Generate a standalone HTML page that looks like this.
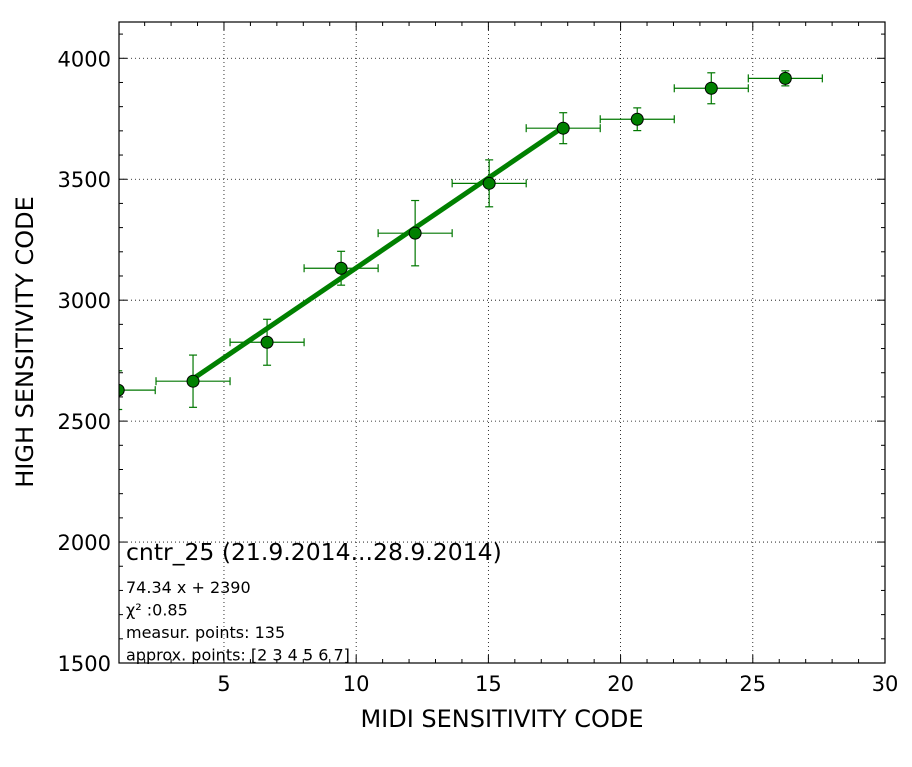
<!DOCTYPE html>
<html><head><meta charset="utf-8"><style>
body{margin:0;background:#fff}
svg text{font-family:"DejaVu Sans",sans-serif;fill:#000}
</style></head><body>
<svg id="c" width="912" height="762"></svg>
<script>
const xs=[1.0,3.83,6.63,9.43,12.23,15.03,17.83,20.63,23.43,26.23];
const ys=[2628,2665,2826,3132,3277,3483,3711,3748,3876,3917];
const yerr=[80,108,95,70,135,97,64,47,64,31];
const xerr=[1.4,1.4,1.4,1.4,1.4,1.4,1.4,1.4,1.4,1.4];
const xTicks=[5,10,15,20,25,30];
const yTicks=[1500,2000,2500,3000,3500,4000];
const fitSlope=74.34, fitIntercept=2390, fitFrom=3.83, fitTo=17.83;

const L=119,R=885,T=22,B=663,X0=1.03,X1=30,Y0=1500,Y1=4150;
const sx=v=>L+(v-X0)/(X1-X0)*(R-L);
const sy=v=>B-(v-Y0)/(Y1-Y0)*(B-T);
const svg=document.getElementById('c');
const NS='http://www.w3.org/2000/svg';
function el(t,a,p){const e=document.createElementNS(NS,t);for(const k in a)e.setAttribute(k,a[k]);(p||svg).appendChild(e);return e;}
const clip=el('clipPath',{id:'cp'});el('rect',{x:L,y:T,width:R-L,height:B-T},clip);
xTicks.forEach(v=>{const x=sx(v);
 if(v<X1){const g=el('line',{x1:x,x2:x,y1:T,y2:B,stroke:'#000','stroke-dasharray':'1,3','stroke-width':0.8});
 }
 const t=el('text',{x:x,y:B+28,'font-size':21,'text-anchor':'middle'});t.textContent=v;
 
 el('line',{x1:x,x2:x,y1:B,y2:B-8,stroke:'#000'});el('line',{x1:x,x2:x,y1:T,y2:T+8,stroke:'#000'});});
for(let v=2;v<30;v++){if(v%5){const x=sx(v);el('line',{x1:x,x2:x,y1:B,y2:B-4,stroke:'#000'});el('line',{x1:x,x2:x,y1:T,y2:T+4,stroke:'#000'});}}
yTicks.forEach(v=>{const y=sy(v);
 if(v>Y0){const g=el('line',{x1:L,x2:R,y1:y,y2:y,stroke:'#000','stroke-dasharray':'1,3','stroke-width':0.8});
 }
 const t=el('text',{x:L-8,y:y+8,'font-size':21,'text-anchor':'end'});t.textContent=v;
 
 el('line',{x1:L,x2:L+8,y1:y,y2:y,stroke:'#000'});el('line',{x1:R,x2:R-8,y1:y,y2:y,stroke:'#000'});});
for(let v=1600;v<4150;v+=100){if(v%500){const y=sy(v);el('line',{x1:L,x2:L+4,y1:y,y2:y,stroke:'#000'});el('line',{x1:R,x2:R-4,y1:y,y2:y,stroke:'#000'});}}
const eg=el('g',{'clip-path':'url(#cp)',stroke:'#007700','stroke-width':1.2});
xs.forEach((x,i)=>{const cx=sx(x),cy=sy(ys[i]);
 const a=sx(x-xerr[i]),b=sx(x+xerr[i]),c=sy(ys[i]+yerr[i]),d=sy(ys[i]-yerr[i]);
 const h=el('line',{x1:a,x2:b,y1:cy,y2:cy},eg);
 el('line',{x1:a,x2:a,y1:cy-4,y2:cy+4},eg);el('line',{x1:b,x2:b,y1:cy-4,y2:cy+4},eg);
 const v=el('line',{x1:cx,x2:cx,y1:c,y2:d},eg);
 el('line',{x1:cx-4,x2:cx+4,y1:c,y2:c},eg);el('line',{x1:cx-4,x2:cx+4,y1:d,y2:d},eg);});
const fl=el('line',{x1:sx(fitFrom),y1:sy(fitSlope*fitFrom+fitIntercept),x2:sx(fitTo),y2:sy(fitSlope*fitTo+fitIntercept),stroke:'#008000','stroke-width':5});

const pg=el('g',{'clip-path':'url(#cp)'});
xs.forEach((x,i)=>{const p=el('circle',{cx:sx(x),cy:sy(ys[i]),r:6,fill:'#008000',stroke:'#000','stroke-width':1},pg);
 });
el('rect',{x:L,y:T,width:R-L,height:B-T,fill:'none',stroke:'#000','stroke-width':1.2});
let t=el('text',{x:(L+R)/2,y:727,'font-size':24,'text-anchor':'middle'});t.textContent='MIDI SENSITIVITY CODE';

t=el('text',{x:0,y:0,'font-size':24,'text-anchor':'middle',transform:'translate(33,342) rotate(-90)'});t.textContent='HIGH SENSITIVITY CODE';

t=el('text',{x:126,y:560,'font-size':23.5});t.textContent='cntr_25 (21.9.2014...28.9.2014)';

const ann=['74.34 x + 2390','χ² :0.85','measur. points: 135','approx. points: [2 3 4 5 6 7]'];
ann.forEach((s,i)=>{const a=el('text',{x:126,y:593+i*22.5,'font-size':16});a.textContent=s;
 });
</script></body></html>
